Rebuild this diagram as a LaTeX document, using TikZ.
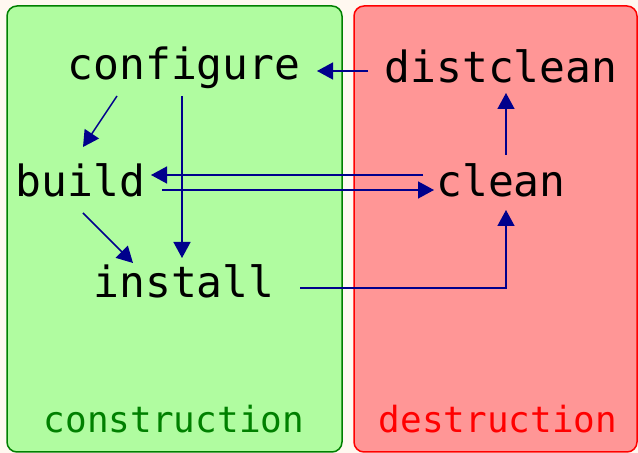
\documentclass[tikz,border=0pt]{standalone}
\usepackage{fontspec}
\newfontfamily\monofnt{DejaVu Sans Mono}
\usetikzlibrary{calc,arrows.meta}
\definecolor{bgcream}{RGB}{255,248,240}
\definecolor{boxgreen}{RGB}{176,252,160}
\definecolor{edgegreen}{RGB}{0,128,0}
\definecolor{boxred}{RGB}{255,150,150}
\definecolor{edgered}{RGB}{255,0,0}
\definecolor{arrblue}{RGB}{0,0,140}
\tikzset{
  target/.style={inner sep=0pt, anchor=base, font=\monofnt\fontsize{43}{50}\selectfont, text=black},
  zonelabel/.style={inner sep=0pt, anchor=base, font=\monofnt\fontsize{36}{42}\selectfont},
  arr/.style={draw=arrblue, line width=1.5pt, -{Triangle[length=16pt,width=17pt]}},
  zone/.style={line width=1.5pt, rounded corners=10pt}
}
\begin{document}
\begin{tikzpicture}[x=1pt,y=1pt]
\useasboundingbox (0,0) rectangle (638,453);
\fill[bgcream] (0,0) rectangle (638,453);
\path[zone, fill=boxgreen, draw=edgegreen] (7,1) rectangle (342,447);
\path[zone, fill=boxred, draw=edgered] (354,1) rectangle (637,447);

\node[target] (configure) at (184,373) {configure};
\node[target] (distclean) at (501,370) {distclean};
\node[target] (build) at (80.5,256) {build};
\node[target] (clean) at (501,256) {clean};
\node[target] (install) at (184,155) {install};
\node[zonelabel, text=edgegreen] (construction) at (174,20) {construction};
\node[zonelabel, text=edgered] (destruction) at (498,20) {destruction};

\draw[arr] ($(distclean.base)+(-133,12)$) -- ($(configure.base)+(133,9)$);
\draw[arr] ($(clean.base)+(5,42)$) -- ($(distclean.base)+(5,-10)$);
\draw[arr] ($(configure.base)+(-67,-16)$) -- ($(build.base)+(2.5,50)$);
\draw[arr] ($(configure.base)+(-2,-16)$) -- ($(install.base)+(-2,40)$);
\draw[arr] ($(build.base)+(2.5,-16)$) -- ($(install.base)+(-51,35)$);
\draw[arr] ($(clean.base)+(-78,22)$) -- ($(build.base)+(70.5,22)$);
\draw[arr] ($(build.base)+(81.5,7)$) -- ($(clean.base)+(-67,7)$);
\draw[arr] ($(install.base)+(116,10)$) -| ($(clean.base)+(5,-13)$);
\end{tikzpicture}
\end{document}
